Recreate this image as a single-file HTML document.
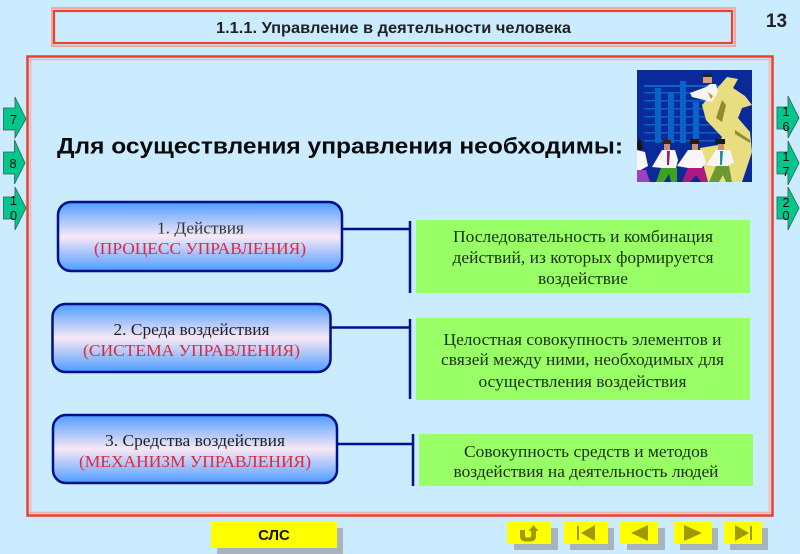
<!DOCTYPE html>
<html><head><meta charset="utf-8"><style>
html,body{margin:0;padding:0;background:#cbebff;overflow:hidden}
svg{display:block;filter:blur(.35px)}
.s{font-family:"Liberation Sans",sans-serif}
.r{font-family:"Liberation Serif",serif;font-size:16.500px;text-anchor:middle}
.n{font-family:"Liberation Sans",sans-serif;font-size:13px;text-anchor:middle;fill:#0a0a0a}
</style></head><body>
<svg width="800" height="554" viewBox="0 0 800 554" xmlns="http://www.w3.org/2000/svg">
<defs>
<linearGradient id="g" x1="0" y1="0" x2="0" y2="1">
<stop offset="0" stop-color="#4d9cff"/><stop offset=".5" stop-color="#f8e8f6"/><stop offset="1" stop-color="#4d9cff"/>
</linearGradient>
</defs>
<rect width="800" height="554" fill="#cbebff"/>

<!-- title frame -->
<rect x="52" y="8" width="683" height="38" fill="none" stroke="#f4a8a0" stroke-width="2"/>
<rect x="54" y="11" width="678" height="32" fill="none" stroke="#ee4028" stroke-width="2.2"/>
<text class="s" x="393.500" y="33" font-size="15.500" font-weight="bold" text-anchor="middle" fill="#222" textLength="355" lengthAdjust="spacingAndGlyphs">1.1.1. Управление в деятельности человека</text>
<text class="s" x="776.500" y="27" font-size="19" font-weight="bold" text-anchor="middle" fill="#222">13</text>

<!-- main frame -->
<rect x="27.500" y="56.500" width="745" height="459" fill="none" stroke="#ee4028" stroke-width="2.500"/>
<rect x="30.500" y="59.500" width="739" height="453" fill="none" stroke="#f7b0a8" stroke-width="1.500"/>

<!-- side arrows -->
<g fill="#00c78c" stroke="#3a5a50" stroke-width=".8">
<path d="M3.500 108H15V97L26 119L15 138V130H3.500Z"/>
<path d="M3.500 152H14.500V140L25 163L14.500 184V174H3.500Z"/>
<path d="M3.500 197H15V187L26 208L15 230V219H3.500Z"/>
<path d="M777 107H788V96L799 118L788 138V129H777Z"/>
<path d="M777 152H788V141L799 163L788 185V174H777Z"/>
<path d="M777 197H788V187L799 208L788 230V219H777Z"/>
</g>
<text class="n" x="13.500" y="124">7</text>
<text class="n" x="13" y="168">8</text>
<text class="n" x="13.500" y="205">1</text><text class="n" x="13.500" y="220">0</text>
<text class="n" x="786" y="116">1</text><text class="n" x="786" y="131">6</text>
<text class="n" x="786" y="161">1</text><text class="n" x="786" y="176">7</text>
<text class="n" x="786" y="207">2</text><text class="n" x="786" y="220">0</text>

<!-- heading -->
<text class="s" x="340" y="153.500" font-size="22" font-weight="bold" text-anchor="middle" fill="#0a0a0a" textLength="566" lengthAdjust="spacingAndGlyphs">Для осуществления управления необходимы:</text>

<!-- picture -->
<g>
<rect x="637" y="70" width="115" height="112" fill="#0a2a9a"/>
<g fill="#0b62c8">
<rect x="644" y="85" width="76" height="2"/><rect x="644" y="92" width="76" height="1.500"/><rect x="644" y="100" width="76" height="1.500"/><rect x="644" y="108" width="76" height="1.500"/><rect x="644" y="116" width="76" height="1.500"/><rect x="644" y="124" width="76" height="1.500"/><rect x="644" y="132" width="76" height="1.500"/><rect x="644" y="140" width="76" height="1.500"/>
<rect x="655" y="88" width="6" height="55"/><rect x="668" y="93" width="6" height="50"/><rect x="680" y="81" width="6" height="62"/><rect x="693" y="102" width="6" height="41"/>
</g>
<path d="M720 85L727 77L738 79L733 88L745 96L752 105L742 108L738 118L750 132L752 152L746 170L742 182H708L702 160L700 148L718 145L722 137L706 120L702 105L710 96Z" fill="#e8de80"/>
<path d="M722 100L726 105L722 122L716 118Z M735 130L750 140V143L735 134Z M728 150L730 182H726Z" fill="#8f8c30"/>
<path d="M690 93L706 87L710 84L716 84L718 92L712 102L704 100L692 97Z" fill="#f4f4f4"/>
<path d="M703 76h9v7h-9z" fill="#d8a080"/><path d="M702 75l10-1v3h-10z" fill="#222"/>
<path d="M708 92l3 7 2-3z" fill="#d88020"/>
<!-- people -->
<path d="M637 143L640 138L643 148L638 152Z" fill="#201010"/>
<path d="M637 150L645 152L648 166L637 172Z" fill="#f6f6f6"/>
<path d="M637 170H646L650 182H637Z" fill="#a040c0"/>
<path d="M664 143h6v8h-6z" fill="#c89070"/><path d="M663 140h8v4h-8z" fill="#402010"/>
<path d="M662 150L675 150L678 160L676 168H662L652 167Z" fill="#f6f6f6"/>
<path d="M667 151h3l-1 14h-2z" fill="#a02060"/>
<path d="M661 168H677L677 182H671L669 174L664 182H656Z" fill="#40a020"/>
<path d="M692 143h6v8h-6z" fill="#c89070"/><path d="M690 139h9v5h-9z" fill="#301808"/>
<path d="M688 150L702 150L706 162L702 168H688L677 166Z" fill="#f6f6f6"/>
<path d="M688 168H704L708 182H701L696 175L690 182H682Z" fill="#b01880"/>
<path d="M718 143h6v8h-6z" fill="#c89070"/><path d="M715 139h10v5h-10z" fill="#102018"/>
<path d="M716 150L730 150L734 162L728 166H714L706 165Z" fill="#f6f6f6"/>
<path d="M720 151h3l-1 14h-2z" fill="#209098"/>
<path d="M716 166H729L732 182H726L723 175L719 182H709Z" fill="#6a9a30"/>
</g>

<!-- blue boxes -->
<g stroke="#00108a" stroke-width="2.500">
<rect x="58" y="202" width="284" height="69" rx="13" fill="url(#g)"/>
<rect x="52.500" y="304" width="278" height="68" rx="13" fill="url(#g)"/>
<rect x="53" y="415" width="284" height="68" rx="13" fill="url(#g)"/>
</g>
<g lengthAdjust="spacingAndGlyphs">
<text class="r" x="200.500" y="233.500" fill="#333" textLength="87" lengthAdjust="spacingAndGlyphs">1. Действия</text>
<text class="r" x="200" y="254" fill="#e02838" textLength="212" lengthAdjust="spacingAndGlyphs">(ПРОЦЕСС УПРАВЛЕНИЯ)</text>
<text class="r" x="191.500" y="335" fill="#222" textLength="156" lengthAdjust="spacingAndGlyphs">2. Среда воздействия</text>
<text class="r" x="191.500" y="356" fill="#e02838" textLength="217" lengthAdjust="spacingAndGlyphs">(СИСТЕМА УПРАВЛЕНИЯ)</text>
<text class="r" x="195" y="446" fill="#222" textLength="180" lengthAdjust="spacingAndGlyphs">3. Средства воздействия</text>
<text class="r" x="195" y="467" fill="#e02838" textLength="232" lengthAdjust="spacingAndGlyphs">(МЕХАНИЗМ УПРАВЛЕНИЯ)</text>
</g>

<!-- connectors -->
<g stroke="#00108a" stroke-width="2.500" fill="none">
<path d="M343 229H410M410 221V293"/>
<path d="M331 327.500H410M410 319V399"/>
<path d="M338 444H413M413 434V486"/>
</g>

<!-- green boxes -->
<g fill="#99ff66">
<rect x="416" y="220" width="334" height="73"/>
<rect x="416" y="318" width="334" height="82"/>
<rect x="419" y="434" width="334" height="52"/>
</g>
<g fill="#1a3010">
<text class="r" x="583" y="242" textLength="260" lengthAdjust="spacingAndGlyphs">Последовательность и комбинация</text>
<text class="r" x="583" y="263" textLength="261" lengthAdjust="spacingAndGlyphs">действий, из которых формируется</text>
<text class="r" x="583" y="284" textLength="90" lengthAdjust="spacingAndGlyphs">воздействие</text>
<text class="r" x="582.500" y="345" textLength="278" lengthAdjust="spacingAndGlyphs">Целостная совокупность элементов и</text>
<text class="r" x="582.500" y="365" textLength="283" lengthAdjust="spacingAndGlyphs">связей между ними, необходимых для</text>
<text class="r" x="582.500" y="387" textLength="208" lengthAdjust="spacingAndGlyphs">осуществления воздействия</text>
<text class="r" x="586" y="457" textLength="244" lengthAdjust="spacingAndGlyphs">Совокупность средств и методов</text>
<text class="r" x="586" y="477" textLength="265" lengthAdjust="spacingAndGlyphs">воздействия на деятельность людей</text>
</g>

<!-- bottom buttons -->
<g fill="#a6b4be">
<rect x="217" y="528" width="126" height="26"/>
<rect x="514" y="528" width="44" height="22"/>
<rect x="570" y="528" width="44" height="22"/>
<rect x="627" y="528" width="38" height="22"/>
<rect x="680" y="528" width="38" height="22"/>
<rect x="730" y="528" width="38" height="22"/>
</g>
<g fill="#ffff00">
<rect x="211" y="522" width="126" height="26"/>
<rect x="507" y="522" width="44" height="22"/>
<rect x="564" y="522" width="44" height="22"/>
<rect x="620" y="522" width="38" height="22"/>
<rect x="674" y="522" width="38" height="22"/>
<rect x="724" y="522" width="38" height="22"/>
</g>
<text class="s" x="274" y="540" font-size="15" font-weight="bold" text-anchor="middle" fill="#111">СЛС</text>
<g fill="#a09a00">
<path d="M520 530V536Q520 541.500 526 541.500H530Q536 541.500 536 536V531H538.500L533.500 525L528.500 531H531V536Q531 537.500 529.500 537.500H526.500Q525 537.500 525 536V530Z"/>
<rect x="577" y="526" width="2" height="14"/><path d="M595 525V541L581 533Z"/>
<path d="M631 533L648 525V541Z"/>
<path d="M684 525L702 533L684 541Z"/>
<path d="M735 525L749 533L735 541Z"/><rect x="750" y="526" width="2" height="14"/>
</g>
</svg>
</body></html>
